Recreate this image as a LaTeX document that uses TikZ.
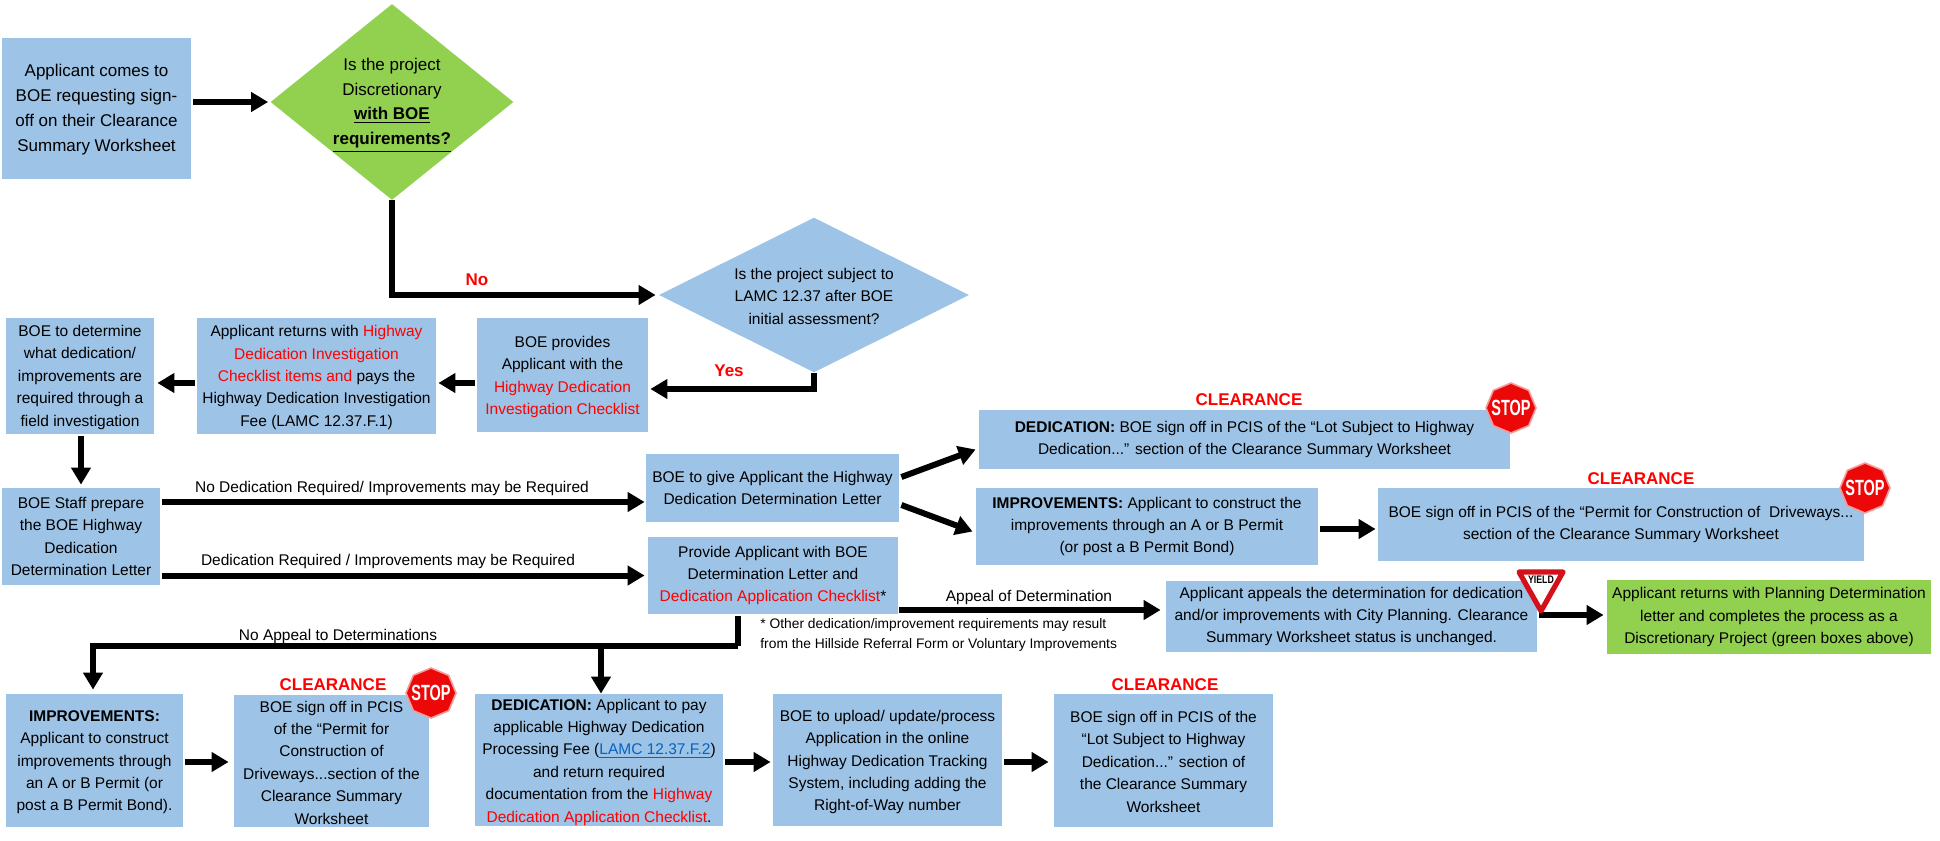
\documentclass[tikz,border=0pt]{standalone}
\usepackage{fontspec}
\setmainfont{Liberation Sans}
\usetikzlibrary{arrows.meta,shapes.geometric}
\newcommand\redtext[1]{\textcolor{red}{#1}}
\newcommand\linktext[1]{\textcolor{linkblue}{\underline{#1}}}
\newcommand\topgap[1]{\rule{0pt}{#1}}
\newcommand\stopword{\raisebox{-.36em}[0pt][0pt]{\makebox[0pt]{\scalebox{.66}[1]{STOP}}}}
\tikzset{
  boxbase/.style={fill=#1, text=black, align=center, inner sep=0pt, font=\fontsize{7.75}{11.2}\selectfont},
  bluebox/.style 2 args={rectangle, boxbase=boxblue, minimum width=#1*0.5pt, minimum height=#2*0.5pt},
  greenbox/.style 2 args={rectangle, boxbase=boxgreen, minimum width=#1*0.5pt, minimum height=#2*0.5pt},
  bigtext/.style={font=\fontsize{8.5}{12.4}\selectfont},
  decision/.style n args={3}{diamond, boxbase=#1, minimum width=#2*0.5pt, minimum height=#3*0.5pt, aspect=1.4},
  bigline/.style={line width=3pt, draw=black},
  bigarrow/.style={bigline, -{Triangle[length=8.5pt,width=9.5pt]}},
  arrowlabel/.style={font=\fontsize{7.75}{10}\selectfont, inner sep=0pt},
  redlabel/.style={font=\bfseries\fontsize{8.5}{10}\selectfont, text=red, inner sep=0pt},
  stopsign/.style={regular polygon, regular polygon sides=8, shape border rotate=22.5, minimum size=25pt, inner sep=0pt,
    fill=stopred, draw=stoppink, line width=0.8pt, text=white, font=\bfseries\fontsize{11}{11}\selectfont}
}
\begin{document}
\begin{tikzpicture}[x=0.5pt,y=-0.5pt]
\definecolor{boxblue}{HTML}{9DC3E6}
\definecolor{boxgreen}{HTML}{92D050}
\definecolor{linkblue}{HTML}{0563C1}
\definecolor{stopred}{HTML}{EC0808}
\definecolor{stoppink}{HTML}{F79A9A}
\definecolor{yieldred}{HTML}{D2111B}
\useasboundingbox (0,0) rectangle (1940,841);
\node[bluebox={189}{141}, bigtext] (start) at (96.5,108.5) {\topgap{7.4pt}Applicant comes to\\BOE requesting sign-\\off on their Clearance\\Summary Worksheet};
\node[decision={boxgreen}{243}{196}, bigtext, aspect=1.24] (qdisc) at (392,102) {\topgap{9.2pt}Is the project\\Discretionary\\\textbf{\underline{with BOE}}\\\textbf{\underline{requirements?}}};
\node[decision={boxblue}{310}{155}, aspect=2] (qlamc) at (814,295) {\topgap{6.8pt}Is the project subject to\\LAMC 12.37 after BOE\\initial assessment?};
\node[bluebox={171}{114}] (provides) at (562.5,375) {\topgap{7.6pt}BOE provides\\Applicant with the\\\redtext{Highway Dedication}\\\redtext{Investigation Checklist}};
\node[bluebox={239}{116}] (returns) at (316.5,376) {\topgap{7pt}Applicant returns with \redtext{Highway}\\\redtext{Dedication Investigation}\\\redtext{Checklist items and} pays the\\Highway Dedication Investigation\\Fee (LAMC 12.37.F.1)};
\node[bluebox={148}{116}] (determine) at (80,376) {\topgap{7pt}BOE to determine\\what dedication/\\improvements are\\required through a\\field investigation};
\node[bluebox={158}{97}] (staff) at (81,536.5) {BOE Staff prepare\\the BOE Highway\\Dedication\\Determination Letter};
\node[bluebox={253}{68}] (give) at (772.5,488) {BOE to give Applicant the Highway\\Dedication Determination Letter};
\node[bluebox={250}{77}] (letter) at (773,575.5) {Provide Applicant with BOE\\Determination Letter and\\\redtext{Dedication Application Checklist}*};
\node[bluebox={531}{59}] (dedclear) at (1244.5,439.5) {\textbf{DEDICATION:} BOE sign off in PCIS of the “Lot Subject to Highway\\Dedication...” section of the Clearance Summary Worksheet};
\node[bluebox={342}{77}] (imprv) at (1147,526.5) {\textbf{IMPROVEMENTS:} Applicant to construct the\\improvements through an A or B Permit\\(or post a B Permit Bond)};
\node[bluebox={486}{73}] (imprclear) at (1621,524.5) {BOE sign off in PCIS of the “Permit for Construction of\ \ Driveways...\\section of the Clearance Summary Worksheet};
\node[bluebox={371}{71}] (appeals) at (1351.5,616.5) {Applicant appeals the determination for dedication\\and/or improvements with City Planning. Clearance\\Summary Worksheet status is unchanged.};
\node[greenbox={324}{74}] (planning) at (1769,617) {Applicant returns with Planning Determination\\letter and completes the process as a\\Discretionary Project (green boxes above)};
\node[bluebox={177}{133}] (imprlow) at (94.5,760.5) {\topgap{7.2pt}\textbf{IMPROVEMENTS:}\\Applicant to construct\\improvements through\\an A or B Permit (or\\post a B Permit Bond).};
\node[bluebox={195}{132}] (signlow) at (331.5,761) {\topgap{7.2pt}BOE sign off in PCIS\\of the “Permit for\\Construction of\\Driveways...section of the\\Clearance Summary\\Worksheet};
\node[bluebox={248}{132}] (dedlow) at (599,760) {\topgap{7.6pt}\textbf{DEDICATION:} Applicant to pay\\applicable Highway Dedication\\Processing Fee (\linktext{LAMC 12.37.F.2})\\and return required\\documentation from the \redtext{Highway}\\\redtext{Dedication Application Checklist}.};
\node[bluebox={229}{132}] (upload) at (887.5,760) {\topgap{7.6pt}BOE to upload/ update/process\\Application in the online\\Highway Dedication Tracking\\System, including adding the\\Right-of-Way number};
\node[bluebox={219}{133}] (signlot) at (1163.5,760.5) {\topgap{6.8pt}BOE sign off in PCIS of the\\“Lot Subject to Highway\\Dedication...” section of\\the Clearance Summary\\Worksheet};
\coordinate (noappeal) at (738,646);
\draw[bigarrow] ([shift={(2,-6.5)}]start.east) -- ([shift={(-2,0)}]qdisc.west);
\draw[bigarrow] (qdisc.south) |- ([xshift=-1.5pt]qlamc.west);
\draw[bigarrow] (qlamc.south) |- ([shift={(2,14)}]provides.east);
\draw[bigarrow] ([shift={(-2,8)}]provides.west) -- ([shift={(2,7)}]returns.east);
\draw[bigarrow] ([shift={(-2,7)}]returns.west) -- ([shift={(3,7)}]determine.east);
\draw[bigarrow] ([shift={(1,2)}]determine.south) -- ([shift={(0,-3)}]staff.north);
\draw[bigarrow] ([shift={(2,-34.5)}]staff.east) -- ([shift={(-1,14)}]give.west);
\draw[bigarrow] ([shift={(2,39)}]staff.east) -- ([shift={(-3,0)}]letter.west);
\draw[bigarrow] ([shift={(2,-11)}]give.east) -- ([shift={(-3,10)}]dedclear.west);
\draw[bigarrow] ([shift={(2,17)}]give.east) -- ([shift={(-3,5)}]imprv.west);
\draw[bigarrow] ([shift={(2,2.5)}]imprv.east) -- ([shift={(-2,4.5)}]imprclear.west);
\draw[bigarrow] ([shift={(1,34.5)}]letter.east) -- ([shift={(-5,-6.5)}]appeals.west);
\draw[bigarrow] ([shift={(2,-1.5)}]appeals.east) -- ([shift={(-3,-2)}]planning.west);
\draw[bigline] ([shift={(-35,2)}]letter.south) -- (noappeal);
\draw[bigarrow] (noappeal) -| ([shift={(-1.5,-4)}]imprlow.north);
\draw[bigarrow] ([xshift=1pt]noappeal -| dedlow.north) -- ([xshift=1pt]dedlow.north);
\draw[bigarrow] ([shift={(2,1.5)}]imprlow.east) -- ([shift={(-5,1)}]signlow.west);
\draw[bigarrow] ([shift={(2,2)}]dedlow.east) -- ([shift={(-2,2)}]upload.west);
\draw[bigarrow] ([shift={(2,2)}]upload.east) -- ([shift={(-5,1.5)}]signlot.west);
\node[redlabel] (nolabel) at (477,280) {No};
\node[redlabel] (yeslabel) at (729,371) {Yes};
\node[arrowlabel] (nodedlabel) at (392,488) {No Dedication Required/ Improvements may be Required};
\node[arrowlabel] (dedlabel) at (388,561) {Dedication Required / Improvements may be Required};
\node[arrowlabel] (appeallabel) at (1029,597) {Appeal of Determination};
\node[arrowlabel] (noappeallabel) at (338,636) {No Appeal to Determinations};
\node[arrowlabel, font=\fontsize{6.9}{10}\selectfont, align=left, anchor=west] (footnote) at (760,635) {* Other dedication/improvement requirements may result\\from the Hillside Referral Form or Voluntary Improvements};
\foreach \n/\x/\y in {a/1249/400, b/1641/479, c/333/685, d/1165/685}
  \node[redlabel] (clear\n) at (\x,\y) {CLEARANCE};
\foreach \n/\x/\y in {a/1511/408, b/1865/488, c/431/693}
  \node[stopsign] (stop\n) at (\x,\y) {\stopword};
\draw[draw=yieldred, line width=2.6pt, line join=round, fill=white] (1519,572) -- (1563,572) -- (1541,611) -- cycle;
\node[inner sep=0pt, font=\bfseries\fontsize{5.5}{6}\selectfont] (yieldtext) at (1541,580) {\scalebox{.8}[1]{YIELD}};
\end{tikzpicture}
\end{document}
